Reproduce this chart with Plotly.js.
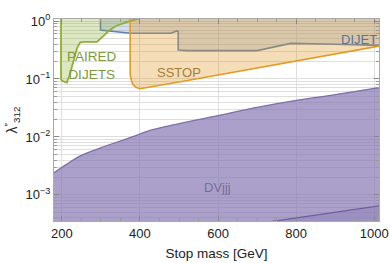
<!DOCTYPE html>
<html>
<head>
<meta charset="utf-8">
<script src="https://cdn.plot.ly/plotly-3.0.1.min.js"></script>
<style>html,body{margin:0;padding:0;background:#fff}#chart{width:390px;height:263px}</style>
</head>
<body>
<div id="chart"></div>
<script>
// ---- data (stop mass in GeV, coupling limit) ----
const DVJJJ_MASS  = [180, 210, 250, 300, 340, 380, 430, 500, 600, 700, 800, 900, 1000, 1015];
const DVJJJ_LIMIT = [0.0024, 0.0033, 0.0048, 0.0065, 0.0081, 0.010, 0.0132, 0.017, 0.0234, 0.0324, 0.0427, 0.0537, 0.069, 0.071];

const DVJJJ2_MASS  = [700, 800, 900, 1015];
const DVJJJ2_LIMIT = [0.00032, 0.00040, 0.00050, 0.00065];

const DIJET_MASS  = [299, 299, 375, 480, 494, 498, 498, 520, 700, 786, 900, 1015];
const DIJET_LIMIT = [1.1, 0.70, 0.617, 0.617, 0.676, 0.66, 0.316, 0.309, 0.309, 0.412, 0.398, 0.38];

const PAIRED_MASS  = [198, 198, 200, 213, 220, 226, 233, 239, 247, 260, 290, 300, 312, 324, 340, 354, 370, 385, 400];
const PAIRED_LIMIT = [1.1, 0.10, 0.093, 0.087, 0.117, 0.17, 0.25, 0.34, 0.427, 0.437, 0.437, 0.50, 0.60, 0.71, 0.83, 0.91, 0.98, 1.05, 1.1];

const SSTOP_MASS  = [375, 375, 378, 382, 390, 400, 500, 600, 700, 800, 900, 1000, 1015];
const SSTOP_LIMIT = [1.1, 0.12, 0.095, 0.08, 0.072, 0.068, 0.089, 0.117, 0.155, 0.204, 0.269, 0.355, 0.372];

const X_TICKS = [200, 400, 600, 800, 1000];
const Y_TICKS = [0.001, 0.01, 0.1, 1];
const Y_TICK_TEXT = ['10<sup>−3</sup>', '10<sup>−2</sup>', '10<sup>−1</sup>', '10<sup>0</sup>'];

// ---- helpers ----
const YTOP = 10, YBOT = 1e-5;
function hanging(xs, ys) { // region between boundary and the top of the frame
  return {x: xs.concat([xs[xs.length-1], xs[0]]), y: ys.concat([YTOP, YTOP])};
}
const minorY = [];
for (let e = -4; e <= 0; e++) for (let d = 2; d <= 9; d++) minorY.push(d * Math.pow(10, e));

const dj = hanging(DIJET_MASS, DIJET_LIMIT);
const pd = hanging(PAIRED_MASS, PAIRED_LIMIT);
const ss = hanging(SSTOP_MASS, SSTOP_LIMIT);

const traces = [
  // DVjjj: baseline + smooth boundary filled down to it
  {x: DVJJJ_MASS, y: DVJJJ_MASS.map(() => YBOT), mode: 'lines', line: {width: 0}, hoverinfo: 'skip'},
  {x: DVJJJ_MASS, y: DVJJJ_LIMIT, mode: 'lines', fill: 'tonexty', fillcolor: 'rgba(135,120,179,0.70)',
   line: {color: '#7e6eaa', width: 1.3, shape: 'spline', smoothing: 0.8}, hoverinfo: 'skip'},
  {x: DVJJJ2_MASS, y: DVJJJ2_MASS.map(() => YBOT), mode: 'lines', line: {width: 0}, hoverinfo: 'skip'},
  {x: DVJJJ2_MASS, y: DVJJJ2_LIMIT, mode: 'lines', fill: 'tonexty', fillcolor: 'rgba(135,120,179,0.40)',
   line: {color: '#6e5f9c', width: 1.3}, hoverinfo: 'skip'},
  {x: dj.x, y: dj.y, mode: 'lines', fill: 'toself', fillcolor: 'rgba(94,129,181,0.25)',
   line: {color: '#5e81b5', width: 1.6}, hoverinfo: 'skip'},
  {x: pd.x, y: pd.y, mode: 'lines', fill: 'toself', fillcolor: 'rgba(143,176,50,0.30)',
   line: {color: '#8fb032', width: 1.8}, hoverinfo: 'skip'},
  {x: ss.x, y: ss.y, mode: 'lines', fill: 'toself', fillcolor: 'rgba(225,156,36,0.33)',
   line: {color: '#e19c24', width: 1.6}, hoverinfo: 'skip'}
];

const font = {family: 'Liberation Sans, Arial, sans-serif', size: 13, color: '#222'};
const layout = {
  width: 390, height: 263,
  margin: {l: 54, r: 11, t: 19, b: 42},
  paper_bgcolor: '#fff', plot_bgcolor: '#fff',
  showlegend: false,
  font: font,
  xaxis: {
    range: [180, 1012], tickmode: 'array', tickvals: X_TICKS,
    ticks: 'inside', ticklen: 5, tickcolor: '#888', mirror: 'allticks',
    showline: true, linecolor: '#aaa', linewidth: 1,
    showgrid: true, gridcolor: '#dedede', gridwidth: 1, zeroline: false,
    minor: {dtick: 50, ticks: 'inside', ticklen: 3, tickcolor: '#999', showgrid: false},
    tickfont: {size: 13, color: '#222'},
    title: {text: 'Stop mass [GeV]', font: {size: 13.5, color: '#222'}, standoff: 8}
  },
  yaxis: {
    type: 'log', range: [-3.45, 0.035], tickmode: 'array', tickvals: Y_TICKS, ticktext: Y_TICK_TEXT,
    ticks: 'inside', ticklen: 5, tickcolor: '#888', mirror: 'allticks',
    showline: true, linecolor: '#aaa', linewidth: 1,
    showgrid: true, gridcolor: '#dedede', gridwidth: 1, zeroline: false,
    minor: {tickmode: 'array', tickvals: minorY, ticks: 'inside', ticklen: 3, tickcolor: '#999',
            showgrid: true, gridcolor: '#dedede', gridwidth: 1},
    tickfont: {size: 13, color: '#222'},
    title: {text: 'λ<sup>″</sup><sub>312</sub>', font: {size: 14, color: '#222'}, standoff: 4}
  },
  annotations: [
    {x: 278, y: -0.77, xref: 'x', yref: 'y', text: 'PAIRED<br>DIJETS', showarrow: false,
     font: {size: 13.5, color: '#7d9a3a'}, align: 'center'},
    {x: 499, y: -0.88, xref: 'x', yref: 'y', text: 'SSTOP', showarrow: false,
     font: {size: 13, color: '#a57c35'}},
    {x: 960, y: -0.31, xref: 'x', yref: 'y', text: 'DIJET', showarrow: false,
     font: {size: 13, color: '#55759f'}},
    {x: 598, y: -2.88, xref: 'x', yref: 'y', text: 'DVjjj', showarrow: false,
     font: {size: 13, color: '#7a6c9c'}}
  ]
};

Plotly.newPlot('chart', traces, layout, {staticPlot: true, displayModeBar: false});
</script>
</body>
</html>
